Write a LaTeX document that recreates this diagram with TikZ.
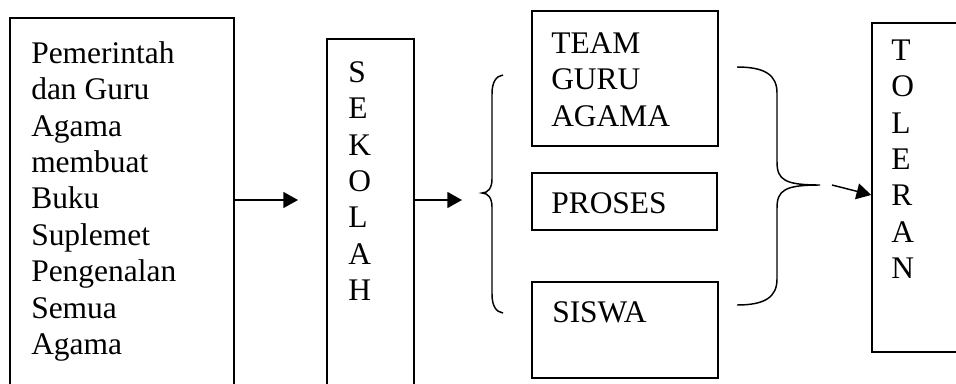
\documentclass[tikz,border=0pt]{standalone}
\usepackage{fontspec}
\setmainfont{Liberation Serif}
\usetikzlibrary{arrows.meta,fit,calc}
\tikzset{
  box/.style={draw, line width=1.15pt, inner sep=0pt},
  txt/.style={anchor=north west, inner sep=0pt, align=left, font=\fontsize{23.6}{27.3}\selectfont},
  arr/.style={line width=1.1pt, -{Triangle[length=11pt,width=12pt]}},
  brace/.style={line width=1.1pt},
}
\begin{document}
\begin{tikzpicture}[x=0.75pt,y=-0.75pt]
\useasboundingbox (0,0) rectangle (956,383);
\clip (0,0) rectangle (956,383);
% boxes
\node[box, fit={(10,18) (234,420)}] (b1) {};
\node[box, fit={(327,39) (414,420)}] (sek) {};
\node[box, fit={(532,11) (718,146)}] (team) {};
\node[box, fit={(532,173) (717,230)}] (proses) {};
\node[box, fit={(532,282) (718,378)}] (siswa) {};
\node[box, fit={(872,23) (990,352)}] (tol) {};
% texts
\node[txt] (t1) at (31,37.5) {\strut Pemerintah\\dan Guru\\Agama\\membuat\\Buku\\Suplemet\\Pengenalan\\Semua\\Agama};
\node[txt] (t2) at (348,56.5) {\strut S\\E\\K\\O\\L\\A\\H};
\node[txt] (t3) at (551,27.5) {\strut TEAM\\GURU\\AGAMA};
\node[txt] (t4) at (551,187.5) {\strut PROSES};
\node[txt] (t5) at (552,296.5) {\strut SISWA};
\node[txt] (t6) at (891,34.5) {\strut T\\O\\L\\E\\R\\A\\N};
% arrows
\coordinate (a1end) at (298,200);
\draw[arr] (b1.north east |- a1end) -- (a1end);
\coordinate (a2end) at (462,200);
\draw[arr] (sek.north east |- a2end) -- (a2end);
\coordinate (a3start) at (832,185);
\draw[arr] (a3start) -- ([yshift=-5.6pt]tol.west);
% left brace
\draw[brace] (503,75) .. controls (496,76) and (492,82) .. (492,94) -- (492,179)
  .. controls (492,188) and (488,193) .. (482,193)
  .. controls (488,193) and (492,198) .. (492,207) -- (492,294)
  .. controls (492,306) and (496,312) .. (503,313);
% right brace
\draw[brace] (737,67) .. controls (765,67) and (777,75) .. (777,93) -- (777,162)
  .. controls (777,180) and (785,185) .. (820,185)
  .. controls (785,185) and (777,190) .. (777,208) -- (777,279)
  .. controls (777,297) and (765,305) .. (737,305);
\end{tikzpicture}
\end{document}
